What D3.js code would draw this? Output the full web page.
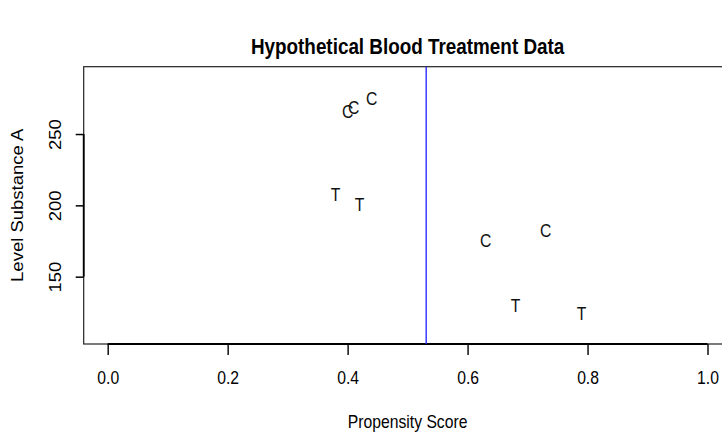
<!DOCTYPE html>
<html>
<head>
<meta charset="utf-8">
<script src="https://cdn.jsdelivr.net/npm/d3@7"></script>
<style>
  html, body { margin: 0; padding: 0; background: #fff; }
  svg { display: block; font-family: "Liberation Sans", Arial, Helvetica, sans-serif; }
</style>
</head>
<body>
<svg id="chart" width="722" height="432"></svg>
<script>
// Propensity score and substance level for each subject, grouped by arm
const groupLabels = ["C", "C", "C", "T", "T", "C", "C", "T", "T"];
const propensity  = [0.40, 0.41, 0.44, 0.38, 0.42, 0.63, 0.73, 0.68, 0.79];
const substanceA  = [266, 268.5, 275, 207.5, 200.5, 175.5, 182.5, 130, 124];

const xTicks = [0.0, 0.2, 0.4, 0.6, 0.8, 1.0];
const yTicks = [150, 200, 250];
const cutoff = 0.531;

const xLim = [0, 1];
const yLim = [110, 290];

const titleText = "Hypothetical Blood Treatment Data";
const xLabel = "Propensity Score";
const yLabel = "Level Substance A";

// R-style 4% axis padding
const pad = (lim) => { const d = (lim[1] - lim[0]) * 0.04; return [lim[0] - d, lim[1] + d]; };

const svg = d3.select("#chart");
const plot = { left: 83.7, right: 731.5, top: 66.7, bottom: 344 };
const fs = 18.5;        // base text size
const squeeze = 0.85;   // horizontal glyph compression
const lineV = 22.2;     // margin line height (vertical)
const lineH = lineV * squeeze;

const x = d3.scaleLinear().domain(pad(xLim)).range([plot.left, plot.right]);
const y = d3.scaleLinear().domain(pad(yLim)).range([plot.bottom, plot.top]);

// Plot frame
svg.append("rect")
  .attr("x", plot.left).attr("y", plot.top)
  .attr("width", plot.right - plot.left).attr("height", plot.bottom - plot.top)
  .attr("fill", "none").attr("stroke", "#222").attr("stroke-width", 1.2);

// X axis
const xAxis = d3.axisBottom(x).tickValues(xTicks).tickFormat(d3.format(".1f")).tickSize(11);
const gx = svg.append("g").attr("transform", `translate(0,${plot.bottom})`).call(xAxis);
gx.select(".domain").attr("d", `M${x(xLim[0])},0H${x(xLim[1])}`).attr("stroke", "#000").attr("stroke-width", 1.8);
gx.selectAll(".tick line").attr("stroke", "#000").attr("stroke-width", 1.4);
gx.selectAll(".tick text")
  .attr("y", null).attr("dy", null)
  .attr("text-anchor", "middle")
  .attr("transform", `translate(0,${1.8 * lineV}) scale(${squeeze},1)`)
  .attr("font-size", fs).attr("fill", "#000")
  .attr("font-family", "Liberation Sans, Arial, sans-serif");

// Y axis with labels parallel to the axis
const yAxis = d3.axisLeft(y).tickValues(yTicks).tickSize(8);
const gy = svg.append("g").attr("transform", `translate(${plot.left},0)`).call(yAxis);
gy.select(".domain").attr("d", `M0,${y(yTicks[0])}V${y(yTicks[yTicks.length - 1])}`).attr("stroke", "#000").attr("stroke-width", 1.8);
gy.selectAll(".tick line").attr("stroke", "#000").attr("stroke-width", 1.5);
gy.selectAll(".tick text")
  .attr("x", null).attr("dy", null)
  .attr("text-anchor", "middle")
  .attr("transform", `translate(${-1.2 * lineH},0) scale(${squeeze},1) rotate(-90)`)
  .attr("font-size", fs).attr("fill", "#000")
  .attr("font-family", "Liberation Sans, Arial, sans-serif");

// Propensity cutoff line
svg.append("line")
  .attr("x1", x(cutoff)).attr("x2", x(cutoff))
  .attr("y1", plot.top).attr("y2", plot.bottom)
  .attr("stroke", "#2b2bff").attr("stroke-width", 1.4);

// Subjects plotted as their group letter
svg.append("g").selectAll("text")
  .data(groupLabels.map((g, i) => ({ g, px: propensity[i], lv: substanceA[i] })))
  .join("text")
  .attr("transform", d => `translate(${x(d.px)},${y(d.lv)}) scale(${squeeze},1)`)
  .attr("dy", "0.36em")
  .attr("text-anchor", "middle")
  .attr("font-size", fs)
  .attr("fill", "#111")
  .text(d => d.g);

// Titles
svg.append("text")
  .attr("transform", `translate(${(plot.left + plot.right) / 2},54) scale(${squeeze},1)`)
  .attr("text-anchor", "middle").attr("font-weight", "bold").attr("font-size", fs * 1.2)
  .text(titleText);

svg.append("text")
  .attr("transform", `translate(${(plot.left + plot.right) / 2},${plot.bottom + 3.8 * lineV}) scale(${squeeze},1)`)
  .attr("text-anchor", "middle").attr("font-size", fs)
  .text(xLabel);

svg.append("text")
  .attr("transform", `translate(${plot.left - 3.2 * lineH},${(plot.top + plot.bottom) / 2}) scale(${squeeze},1) rotate(-90)`)
  .attr("text-anchor", "middle").attr("font-size", fs)
  .text(yLabel);
</script>
</body>
</html>
